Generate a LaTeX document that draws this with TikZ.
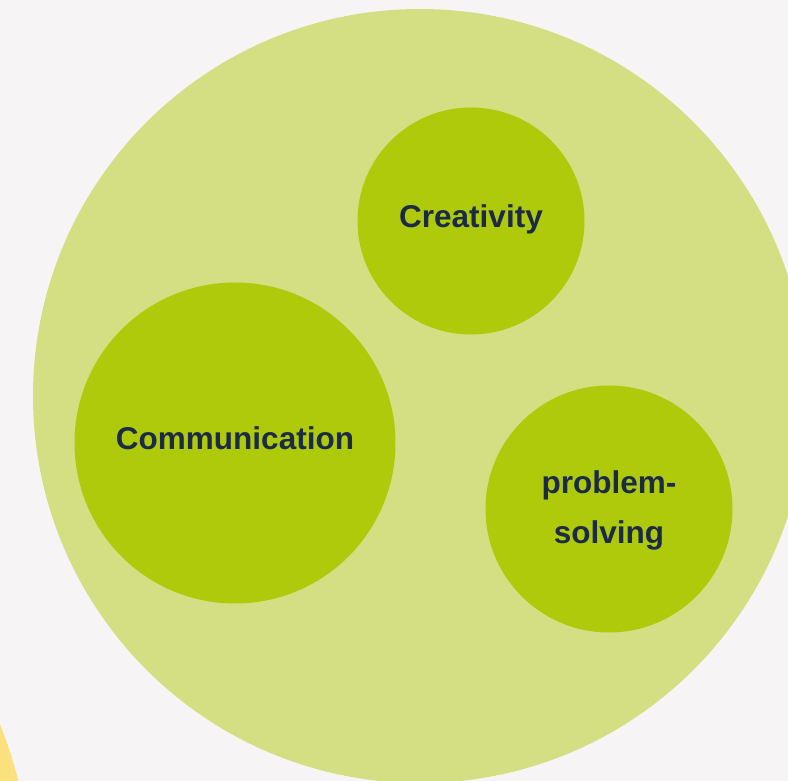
\documentclass[tikz,border=0pt]{standalone}
\usepackage{fontspec}
\setmainfont{Liberation Sans}
\definecolor{bgc}{HTML}{F6F4F5}
\definecolor{bigc}{HTML}{D4DF83}
\definecolor{smallc}{HTML}{AFCA0B}
\definecolor{txtc}{HTML}{1B2A47}
\definecolor{yelc}{HTML}{FBE07E}
\begin{document}
\begin{tikzpicture}[x=1pt,y=-1pt,
  bubble/.style={circle, fill=smallc, inner sep=0pt},
  label/.style={text=txtc, font=\fontsize{31.5}{50}\selectfont\bfseries, align=center}]
\useasboundingbox (0,0) rectangle (788,781);
\fill[bgc] (0,0) rectangle (788,781);
\begin{scope}
\clip (0,0) rectangle (788,781);
\fill[yelc] (-358,872) circle[radius=387pt];
\node[circle, fill=bigc, minimum size=774pt, inner sep=0pt] (big) at (420,396) {};
\end{scope}
\node[bubble, minimum size=227pt] (crea) at (471,221) {};
\node[label] at (471,219) {Creativity};
\node[bubble, minimum size=321pt] (comm) at (235,443) {};
\node[label] at (235,438) {Communication};
\node[bubble, minimum size=247pt] (prob) at (609,509) {};
\node[label] at (609,510) {problem-\\solving};
\end{tikzpicture}
\end{document}
